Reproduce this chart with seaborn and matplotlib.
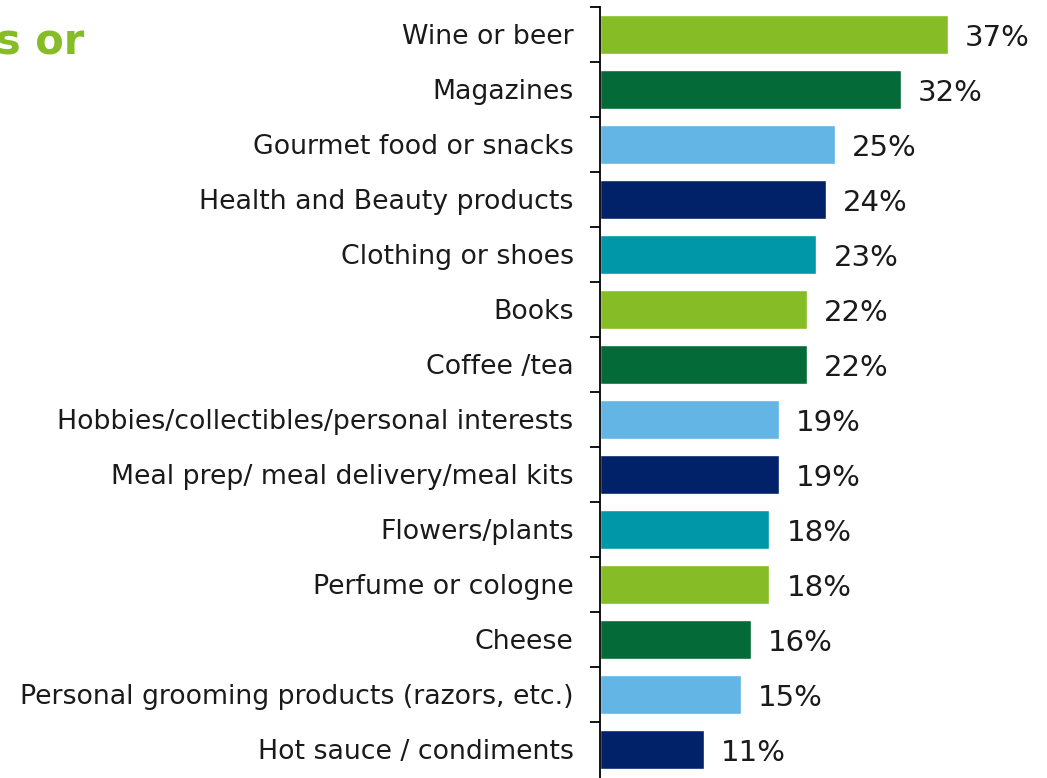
import pandas as pd
import matplotlib.pyplot as plt
import seaborn as sns
from matplotlib.ticker import FixedLocator

categories = ['Wine or beer', 'Magazines', 'Gourmet food or snacks', 'Health and Beauty products',
              'Clothing or shoes', 'Books', 'Coffee /tea', 'Hobbies/collectibles/personal interests',
              'Meal prep/ meal delivery/meal kits', 'Flowers/plants', 'Perfume or cologne', 'Cheese',
              'Personal grooming products (razors, etc.)', 'Hot sauce / condiments']
values = [37, 32, 25, 24, 23, 22, 22, 19, 19, 18, 18, 16, 15, 11]
colors = ['#86BC25', '#046A38', '#62B5E5', '#012169', '#0097A9']

df = pd.DataFrame({'category': categories, 'value': values})
palette = [colors[i % len(colors)] for i in range(len(categories))]

sns.set_style('white')
plt.rcParams['font.family'] = ['DejaVu Sans']

fig = plt.figure(figsize=(10.47, 7.78), dpi=100)
ax = fig.add_axes([600 / 1047, 0, 447 / 1047, 771 / 778])
sns.barplot(data=df, x='value', y='category', hue='category', palette=palette,
            legend=False, width=0.72, saturation=1, ax=ax)

ax.set_xlim(0, 47.5)
ax.set_ylim(len(categories) - 0.5 + 0.02, -0.5)
ax.set_xlabel('')
ax.set_ylabel('')
ax.set_xticks([])
for s in ['top', 'right', 'bottom']:
    ax.spines[s].set_visible(False)
ax.spines['left'].set_color('black')
ax.spines['left'].set_linewidth(1.3)

ax.tick_params(axis='y', which='major', left=False, length=0, pad=19, labelsize=19.3, labelcolor='#1a1a1a')
ax.yaxis.set_minor_locator(FixedLocator([i - 0.5 for i in range(len(categories))]))
ax.tick_params(axis='y', which='minor', left=True, length=7, width=1.3, color='black', direction='out')

for i, v in enumerate(values):
    ax.text(v + 1.8, i + 0.06, f'{v}%', va='center', ha='left', fontsize=21, color='#1a1a1a')

fig.text(-0.004, 0.945, 's or', color='#86BC25', fontsize=30, fontweight='bold', ha='left', va='center')

fig.savefig('out.png', dpi=100)
